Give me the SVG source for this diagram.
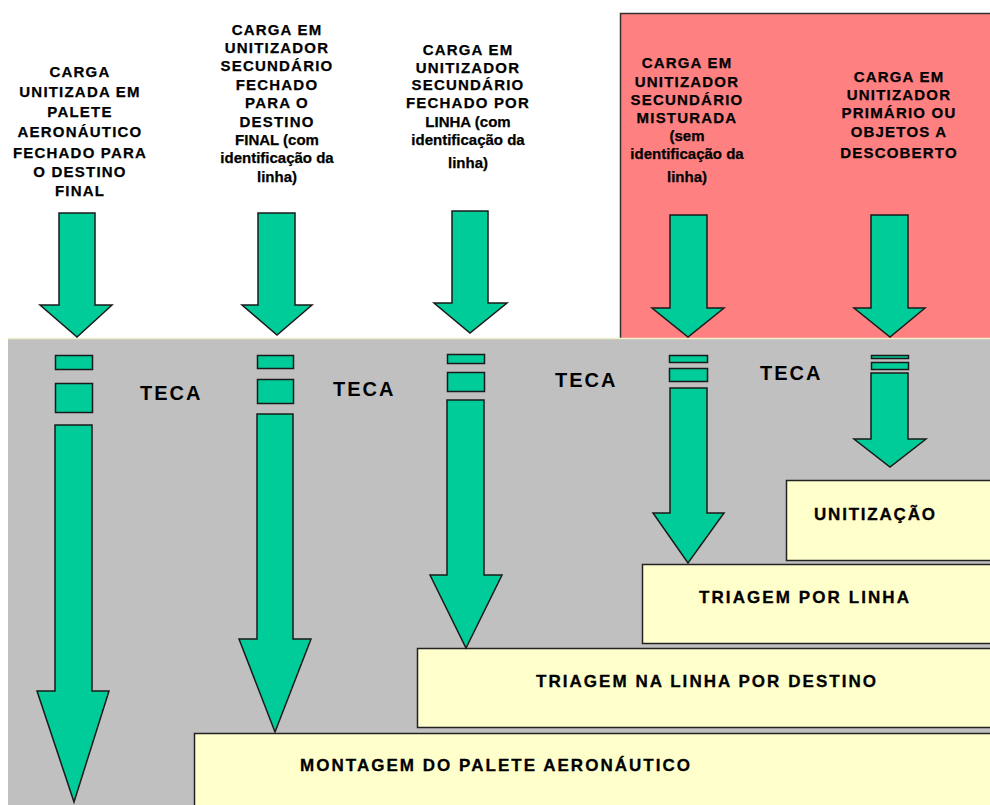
<svg xmlns="http://www.w3.org/2000/svg" width="990" height="805" viewBox="0 0 990 805">
  <style>
    .hdr { font-family: "Liberation Sans", Arial, sans-serif; font-weight: bold; font-size: 15px; fill: #000; stroke: #000; stroke-width: 0.25; text-anchor: middle; }
    .cap { letter-spacing: 1.2px; }
    .tag { font-family: "Liberation Sans", Arial, sans-serif; font-weight: bold; font-size: 21px; fill: #000; text-anchor: middle; }
    .teca { font-family: "Liberation Sans", Arial, sans-serif; font-weight: bold; font-size: 20px; letter-spacing: 2px; fill: #000; }
    .box { fill: #FFFFCC; stroke: #222; stroke-width: 1.5; }
    .boxtxt { font-family: "Liberation Sans", Arial, sans-serif; font-weight: bold; font-size: 17px; fill: #000; stroke: #000; stroke-width: 0.3; }
    .arrow { fill: #00CC99; stroke: #1a1a1a; stroke-width: 1.5; stroke-linejoin: miter; }
  </style>

  <!-- background -->
  <rect x="0" y="0" width="990" height="805" fill="#FFFFFF"/>
  <rect id="zone-mixed" x="620.5" y="13.5" width="372" height="326" fill="#FF8080" stroke="#333" stroke-width="1.5"/>
  <rect id="zone-teca" x="8" y="338" width="982" height="467" fill="#C0C0C0"/>
  <line x1="8" y1="338.5" x2="990" y2="338.5" stroke="#F2F0C8" stroke-width="1.5"/>

  <!-- headers -->
  <g id="head-A">
    <text class="hdr cap" x="80" y="77">CARGA</text>
    <text class="hdr cap" x="80" y="97">UNITIZADA EM</text>
    <text class="hdr cap" x="80" y="117">PALETE</text>
    <text class="hdr cap" x="80" y="137">AERONÁUTICO</text>
    <text class="hdr cap" x="80" y="158">FECHADO PARA</text>
    <text class="hdr cap" x="80" y="177">O DESTINO</text>
    <text class="hdr cap" x="80" y="196">FINAL</text>
    <text class="tag" x="80" y="268">A</text>
  </g>
  <g id="head-B">
    <text class="hdr cap" x="277" y="35">CARGA EM</text>
    <text class="hdr cap" x="277" y="53">UNITIZADOR</text>
    <text class="hdr cap" x="277" y="71">SECUNDÁRIO</text>
    <text class="hdr cap" x="277" y="90">FECHADO</text>
    <text class="hdr cap" x="277" y="108">PARA O</text>
    <text class="hdr cap" x="277" y="127">DESTINO</text>
    <text class="hdr" x="277" y="145">FINAL (com</text>
    <text class="hdr" x="277" y="163">identificação da</text>
    <text class="hdr" x="277" y="182">linha)</text>
    <text class="tag" x="280" y="268">B</text>
  </g>
  <g id="head-C">
    <text class="hdr cap" x="468" y="55">CARGA EM</text>
    <text class="hdr cap" x="468" y="73">UNITIZADOR</text>
    <text class="hdr cap" x="468" y="90">SECUNDÁRIO</text>
    <text class="hdr cap" x="468" y="108">FECHADO POR</text>
    <text class="hdr" x="468" y="127">LINHA (com</text>
    <text class="hdr" x="468" y="145">identificação da</text>
    <text class="hdr" x="468" y="168">linha)</text>
    <text class="tag" x="475" y="268">C</text>
  </g>
  <g id="head-D">
    <text class="hdr cap" x="687" y="68">CARGA EM</text>
    <text class="hdr cap" x="687" y="87">UNITIZADOR</text>
    <text class="hdr cap" x="687" y="105">SECUNDÁRIO</text>
    <text class="hdr cap" x="687" y="123">MISTURADA</text>
    <text class="hdr" x="687" y="141">(sem</text>
    <text class="hdr" x="687" y="159">identificação da</text>
    <text class="hdr" x="687" y="182">linha)</text>
    <text class="tag" x="694" y="268">D</text>
  </g>
  <g id="head-E">
    <text class="hdr cap" x="899" y="82">CARGA EM</text>
    <text class="hdr cap" x="899" y="100">UNITIZADOR</text>
    <text class="hdr cap" x="899" y="118">PRIMÁRIO OU</text>
    <text class="hdr cap" x="899" y="137">OBJETOS A</text>
    <text class="hdr cap" x="899" y="158">DESCOBERTO</text>
    <text class="tag" x="894" y="265">E</text>
  </g>

  <!-- TECA labels -->
  <g id="teca-labels">
    <text class="teca" x="140" y="400">TECA</text>
    <text class="teca" x="333" y="396">TECA</text>
    <text class="teca" x="555" y="387">TECA</text>
    <text class="teca" x="760" y="380">TECA</text>
  </g>

  <!-- process steps -->
  <g id="step-unitizacao">
    <rect class="box" x="786.5" y="480.5" width="210" height="80"/>
    <text class="boxtxt" x="814" y="520" textLength="121" lengthAdjust="spacing">UNITIZAÇÃO</text>
  </g>
  <g id="step-triagem-linha">
    <rect class="box" x="642.5" y="564.5" width="360" height="79"/>
    <text class="boxtxt" x="699" y="603" textLength="210" lengthAdjust="spacing">TRIAGEM POR LINHA</text>
  </g>
  <g id="step-triagem-destino">
    <rect class="box" x="417.5" y="648.5" width="580" height="79"/>
    <text class="boxtxt" x="536" y="687" textLength="340" lengthAdjust="spacing">TRIAGEM NA LINHA POR DESTINO</text>
  </g>
  <g id="step-montagem">
    <rect class="box" x="194.5" y="733.5" width="800" height="80"/>
    <text class="boxtxt" x="300" y="771" textLength="390" lengthAdjust="spacing">MONTAGEM DO PALETE AERONÁUTICO</text>
  </g>

  <!-- flow arrows -->
  <g id="connectors">
    <!-- entry arrows -->
    <polygon class="arrow" points="59,213 95,213 95,305 112,305 77,337 40,305 59,305"/>
    <polygon class="arrow" points="258,213 295,213 295,305 312,305 277,335 242,305 258,305"/>
    <polygon class="arrow" points="452,211 488,211 488,303 507,303 470,333 434,303 452,303"/>
    <polygon class="arrow" points="670,215 707,215 707,308 724,308 688,337 652,308 670,308"/>
    <polygon class="arrow" points="871,215 908,215 908,308 925,308 890,337 854,308 871,308"/>

    <!-- A: through to pallet build-up -->
    <rect class="arrow" x="55.5" y="355.5" width="37" height="14"/>
    <rect class="arrow" x="55.5" y="383.5" width="37" height="29"/>
    <polygon class="arrow" points="55,425 92,425 92,691 109,691 74,802 37,691 55,691"/>

    <!-- B -->
    <rect class="arrow" x="257.5" y="355.5" width="36" height="13"/>
    <rect class="arrow" x="257.5" y="379.5" width="36" height="24"/>
    <polygon class="arrow" points="257,414 293,414 293,639 311,639 275,732 239,639 257,639"/>

    <!-- C -->
    <rect class="arrow" x="447.5" y="354.5" width="37" height="9"/>
    <rect class="arrow" x="447.5" y="372.5" width="37" height="19"/>
    <polygon class="arrow" points="447,400 484,400 484,575 502,575 466,648 430,575 447,575"/>

    <!-- D -->
    <rect class="arrow" x="669.5" y="355.5" width="38" height="7"/>
    <rect class="arrow" x="669.5" y="368.5" width="38" height="13"/>
    <polygon class="arrow" points="670,388 707,388 707,513 724,513 688,563 653,513 670,513"/>

    <!-- E -->
    <rect class="arrow" x="871.5" y="355.5" width="37" height="3"/>
    <rect class="arrow" x="871.5" y="362.5" width="37" height="7"/>
    <polygon class="arrow" points="871,373 908,373 908,439 926,439 890,467 854,439 871,439"/>
  </g>
</svg>
